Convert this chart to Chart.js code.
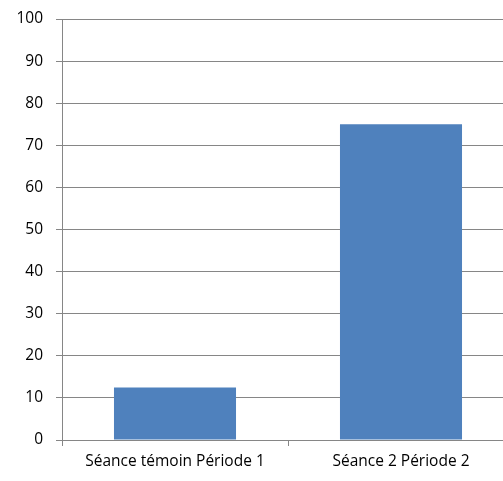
<!DOCTYPE html>
<html>
<head>
<meta charset="utf-8">
<script src="https://cdn.jsdelivr.net/npm/chart.js@4"></script>
<style>
  html, body { margin: 0; padding: 0; background: #fff; overflow: hidden; }
  body { width: 503px; height: 481px; }
  #wrap { width: 514px; height: 481px; }
</style>
</head>
<body>
<div id="wrap"><canvas id="myChart"></canvas></div>
<script>
const categories = ["Séance témoin Période 1", "Séance 2 Période 2"];
const values = [12.5, 75];
const yTicks = [0, 10, 20, 30, 40, 50, 60, 70, 80, 90, 100];

const gridColor = "#868686";

new Chart("myChart", {
  type: "bar",
  data: {
    labels: categories,
    datasets: [{
      data: values,
      backgroundColor: "#4f81bd",
      categoryPercentage: 0.54,
      barPercentage: 1.0
    }]
  },
  options: {
    responsive: true,
    maintainAspectRatio: false,
    animation: false,
    layout: { padding: { top: 0, right: 0, left: 0, bottom: 0 } },
    plugins: {
      legend: { display: false },
      tooltip: { enabled: false }
    },
    scales: {
      x: {
        grid: {
          offset: true,
          drawOnChartArea: false,
          color: gridColor,
          tickLength: 6
        },
        border: { color: gridColor },
        ticks: {
          color: "#000",
          font: { family: "Open Sans", size: 15.5 },
          padding: 6
        },
        afterFit: function(scale) { scale.height = 41; }
      },
      y: {
        min: 0,
        max: 100,
        afterBuildTicks: function(scale) {
          scale.ticks = yTicks.map(v => ({ value: v }));
        },
        grid: {
          color: gridColor,
          tickLength: 6
        },
        border: { color: gridColor },
        ticks: {
          color: "#000",
          font: { family: "Open Sans", size: 15.5, lineHeight: 1 },
          padding: 13
        },
        afterFit: function(scale) {
          scale.width = 62;
          scale.paddingTop = 19;
        }
      }
    }
  }
});
</script>
</body>
</html>
